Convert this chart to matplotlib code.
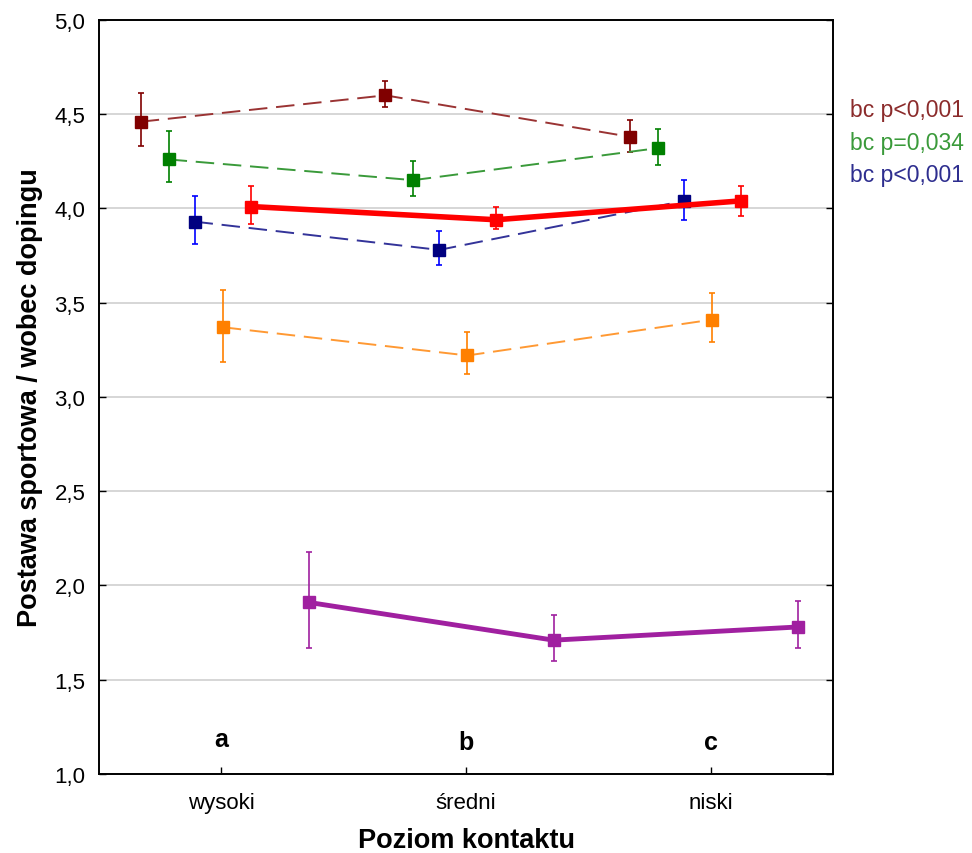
import matplotlib.pyplot as plt
import numpy as np

plt.rcParams['font.family'] = ['Liberation Sans', 'DejaVu Sans']

categories = ['wysoki', 'średni', 'niski']
group_letters = ['a', 'b', 'c']

# mean, lower and upper bound of each series
darkred_mean = [4.46, 4.60, 4.38]
darkred_lo = [4.33, 4.54, 4.30]
darkred_hi = [4.61, 4.675, 4.47]

green_mean = [4.26, 4.15, 4.32]
green_lo = [4.14, 4.065, 4.23]
green_hi = [4.41, 4.25, 4.42]

blue_mean = [3.93, 3.78, 4.04]
blue_lo = [3.81, 3.70, 3.94]
blue_hi = [4.065, 3.88, 4.15]

orange_mean = [3.37, 3.22, 3.41]
orange_lo = [3.185, 3.12, 3.29]
orange_hi = [3.57, 3.345, 3.55]

red_mean = [4.01, 3.94, 4.04]
red_lo = [3.92, 3.89, 3.96]
red_hi = [4.12, 4.01, 4.12]

purple_mean = [1.91, 1.71, 1.78]
purple_lo = [1.67, 1.60, 1.67]
purple_hi = [2.18, 1.845, 1.92]

notes = ['bc p<0,001', 'bc p=0,034', 'bc p<0,001']
note_colors = ['#8b2b2b', '#3a9a3a', '#2e2e8f']

x = np.arange(len(categories))

fig = plt.figure(figsize=(9.72, 8.54), dpi=100)
ax = fig.add_axes([0.102, 0.0925, 0.755, 0.883])


def draw(mean, lo, hi, off, mcol, lcol, ecol, dashed, lw, z):
    mean = np.array(mean)
    yerr = [mean - np.array(lo), np.array(hi) - mean]
    xs = x + off
    ax.errorbar(xs, mean, yerr=yerr, fmt='none', ecolor=ecol, elinewidth=1.2,
                capsize=2.2, capthick=1.2, zorder=z)
    if dashed:
        ax.plot(xs, mean, color=lcol, lw=lw, dashes=(9.5, 4.5), zorder=z)
    else:
        ax.plot(xs, mean, color=lcol, lw=lw, zorder=z)
    ax.plot(xs, mean, 's', color=mcol, markersize=8, zorder=z + 0.5)


draw(darkred_mean, darkred_lo, darkred_hi, -0.33, '#800000', '#9a3333', '#800000', True, 1.4, 3)
draw(green_mean, green_lo, green_hi, -0.216, '#008000', '#3a9a3a', '#008000', True, 1.4, 3)
draw(blue_mean, blue_lo, blue_hi, -0.11, '#000080', '#333399', '#0000ff', True, 1.4, 3)
draw(orange_mean, orange_lo, orange_hi, 0.005, '#ff8000', '#ff9933', '#ff8000', True, 1.4, 3)
draw(red_mean, red_lo, red_hi, 0.122, '#ff0000', '#ff0000', '#ff0000', False, 4, 5)
draw(purple_mean, purple_lo, purple_hi, 0.358, '#a020a0', '#a020a0', '#a020a0', False, 3.5, 5)

for i, s in enumerate(group_letters):
    yb = 1.148 if i == 0 else 1.13
    ax.text(x[i], yb, s, ha='center', va='baseline', fontsize=18, fontweight='bold')

for i, s in enumerate(notes):
    fig.text(0.874, 0.8705 - i * 0.038, s, color=note_colors[i], fontsize=16.5, va='center')

ax.set_xlim(-0.5, 2.5)
ax.set_ylim(1.0, 5.0)
yt = np.arange(1.0, 5.01, 0.5)
ax.set_yticks(yt)
ax.set_yticklabels([f'{v:.1f}'.replace('.', ',') for v in yt])
ax.set_xticks(x)
ax.set_xticklabels(categories)
ax.tick_params(axis='both', direction='in', length=5, labelsize=16, width=1)
ax.tick_params(axis='y', right=True, pad=10)
ax.tick_params(axis='x', pad=13)
ax.grid(axis='y', color='#d0d0d0', lw=1.2, zorder=0)
ax.set_axisbelow(True)
for sp in ax.spines.values():
    sp.set_linewidth(1.4)

ax.set_xlabel('Poziom kontaktu', fontsize=19.5, fontweight='bold', labelpad=10)
ax.set_ylabel('Postawa sportowa / wobec dopingu', fontsize=19.5, fontweight='bold', labelpad=8)

fig.savefig('out.png', dpi=100)
